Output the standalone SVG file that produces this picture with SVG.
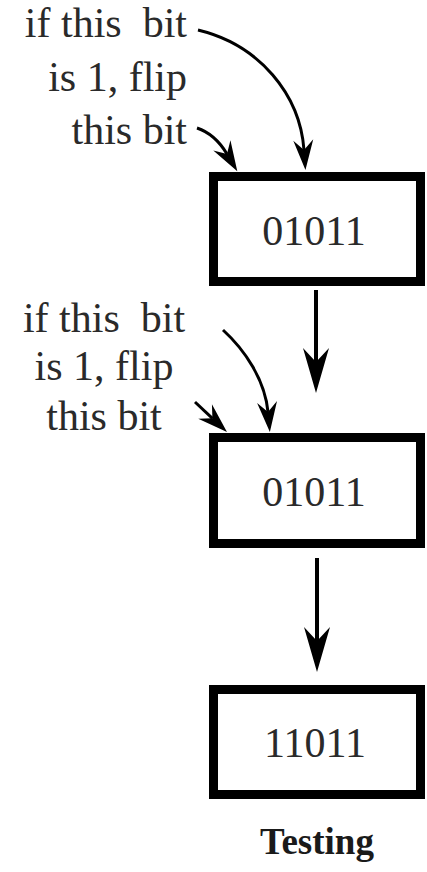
<svg xmlns="http://www.w3.org/2000/svg" width="427" height="872" viewBox="0 0 427 872">
<style>
text{font-family:'Liberation Serif','DejaVu Serif','Times New Roman',serif}
.lbl{font-size:42px;fill:#2a2a2a;white-space:pre}
.val{font-size:42px;fill:#2a2a2a;text-anchor:middle}
.cap{font-size:37px;font-weight:bold;fill:#1a1a1a;text-anchor:middle}
.box{fill:#fff;stroke:#000;stroke-width:9}
.vline{fill:none;stroke:#000;stroke-width:4;marker-end:url(#bigHead)}
.cline{fill:none;stroke:#000;stroke-width:3;marker-end:url(#smallHead)}
</style>
<defs>
<marker id="bigHead" markerUnits="userSpaceOnUse" viewBox="-46 -14 47 28" markerWidth="47" markerHeight="28" refX="-31" refY="0" orient="auto">
<path d="M0,0 L-45,-13 L-31,0 L-45,13 Z" fill="#000"/>
</marker>
<marker id="smallHead" markerUnits="userSpaceOnUse" viewBox="-31 -11 32 22" markerWidth="32" markerHeight="22" refX="-20" refY="0" orient="auto">
<path d="M0,0 L-30,-10 L-20,0 L-30,10 Z" fill="#000"/>
</marker>
</defs>
<rect width="427" height="872" fill="#fff"/>
<g id="label1">
<text class="lbl" x="187" y="37" text-anchor="end">if this  bit</text>
<text class="lbl" x="187" y="91" text-anchor="end">is 1, flip</text>
<text class="lbl" x="187" y="144" text-anchor="end">this bit</text>
</g>
<g id="label2">
<text class="lbl" x="104" y="332" text-anchor="middle">if this  bit</text>
<text class="lbl" x="104" y="380" text-anchor="middle">is 1, flip</text>
<text class="lbl" x="104" y="430" text-anchor="middle">this bit</text>
</g>
<g id="box1">
<rect class="box" x="213.5" y="176.5" width="207" height="105"/>
<text class="val" x="314" y="245">01011</text>
</g>
<g id="box2">
<rect class="box" x="213.5" y="437.5" width="207" height="106"/>
<text class="val" x="314" y="506">01011</text>
</g>
<g id="box3">
<rect class="box" x="213.5" y="689.5" width="207" height="105"/>
<text class="val" x="315" y="757">11011</text>
</g>
<g id="caption">
<text class="cap" x="317" y="854">Testing</text>
</g>
<g id="connectors">
<path class="cline" d="M198,30 C260,45 300,95 304,150"/>
<path class="cline" d="M197,128 Q215,134 227,154"/>
<path class="cline" d="M223,330 C245,350 265,380 268,412"/>
<path class="cline" d="M195,402 L212.4,418.3"/>
<path class="vline" d="M316,290 L316,362"/>
<path class="vline" d="M317,558 L317,641"/>
</g>
</svg>
